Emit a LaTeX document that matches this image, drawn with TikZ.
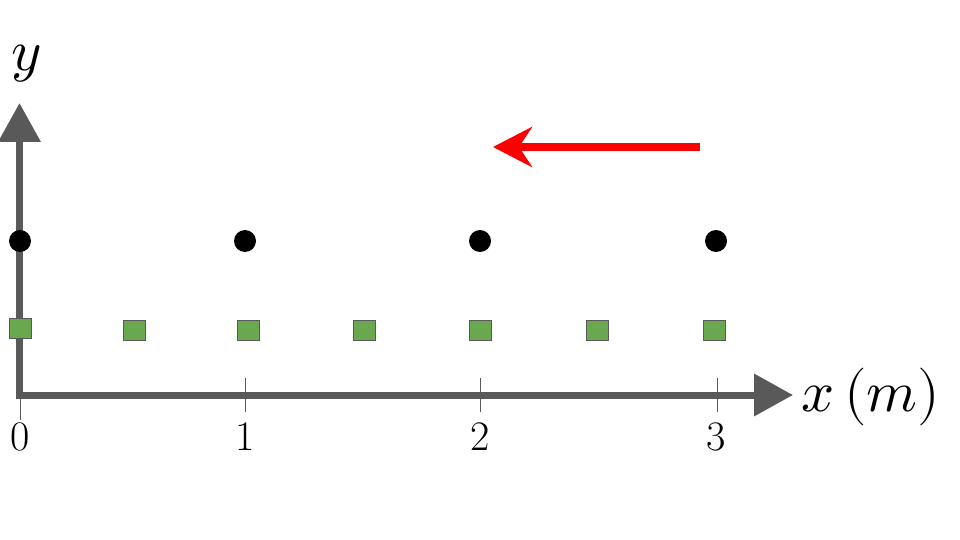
\documentclass[tikz,border=0pt]{standalone}
\usepackage{unicode-math}
\setmathfont{Latin Modern Math}
\usetikzlibrary{arrows.meta}
\definecolor{axisgray}{HTML}{595959}
\definecolor{sqgreen}{HTML}{6AA84F}
\definecolor{arrred}{HTML}{FF0000}
\begin{document}
\begin{tikzpicture}[x=1pt,y=-1pt,
  axis/.style={draw=axisgray,line width=7pt,-{Triangle[length=39pt,width=41pt]}},
  tickline/.style={draw=axisgray,line width=0.9pt},
  dotnode/.style={circle,fill=black,inner sep=0pt,minimum size=22pt},
  sqnode/.style={rectangle,fill=sqgreen,draw=axisgray,line width=0.8pt,inner sep=0pt,minimum width=22pt,minimum height=20pt},
  numlabel/.style={font=\fontsize{42}{48}\selectfont,inner sep=0pt},
  axlabel/.style={font=\fontsize{58}{66}\selectfont,inner sep=0pt}]
\useasboundingbox (0,0) rectangle (960,540);
% axes
\coordinate (xstart) at (16,395);
\coordinate (xend) at (793,395);
\coordinate (ystart) at (19.5,398);
\coordinate (yend) at (19.5,103);
% ticks
\coordinate (t0a) at (20,395); \coordinate (t0b) at (20,420);
\coordinate (t1a) at (245,378); \coordinate (t1b) at (245,412);
\coordinate (t2a) at (480,378); \coordinate (t2b) at (480,412);
\coordinate (t3a) at (717,378); \coordinate (t3b) at (717,412);
\draw[tickline] (t0a) -- (t0b);
\draw[tickline] (t1a) -- (t1b);
\draw[tickline] (t2a) -- (t2b);
\draw[tickline] (t3a) -- (t3b);
\draw[axis] (ystart) -- (yend);
\draw[axis] (xstart) -- (xend);
% labels
\node[numlabel] (l0) at (20,437) {0};
\node[numlabel] (l1) at (245,437) {1};
\node[numlabel] (l2) at (480,437) {2};
\node[numlabel] (l3) at (716,437) {3};
\node[axlabel,anchor=west] (xl) at (801,397) {$x\,(m)$};
\node[axlabel] (yl) at (27,64) {$y$};
% dots
\node[dotnode] (d0) at (20,241) {};
\node[dotnode] (d1) at (245,241) {};
\node[dotnode] (d2) at (480,241) {};
\node[dotnode] (d3) at (716,241) {};
% squares
\node[sqnode] (s0) at (20.5,328) {};
\node[sqnode] (s1) at (134.5,330) {};
\node[sqnode] (s2) at (248,330) {};
\node[sqnode] (s3) at (364,330) {};
\node[sqnode] (s4) at (480,330) {};
\node[sqnode] (s5) at (597,330) {};
\node[sqnode] (s6) at (714,330) {};
% red arrow
\coordinate (ra) at (700,147);
\coordinate (rb) at (493,147);
\draw[draw=arrred,line width=8pt,-{Stealth[length=39pt,width=40pt,inset=13pt]}] (ra) -- (rb);
\end{tikzpicture}
\end{document}
